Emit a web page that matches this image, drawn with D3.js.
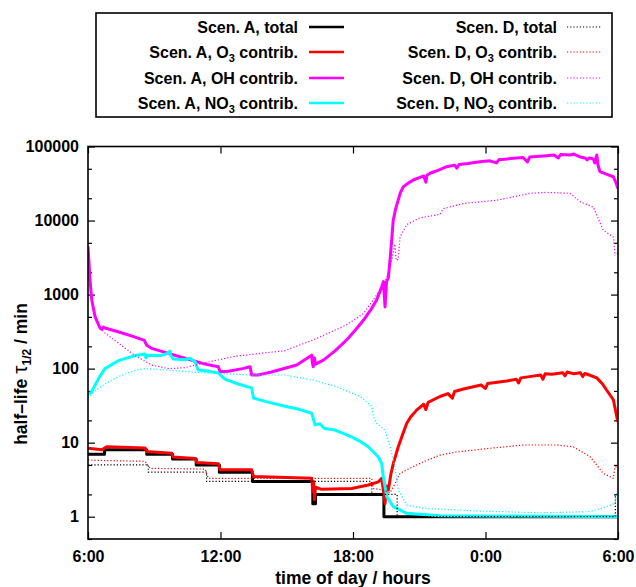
<!DOCTYPE html>
<html><head><meta charset="utf-8">
<script src="https://cdn.jsdelivr.net/npm/d3@7"></script>
<style>
body{margin:0;background:#fff;}
text{font-family:"Liberation Sans",Arial,Helvetica,sans-serif;font-weight:bold;}
</style></head>
<body><svg id="c" width="636" height="587"></svg>
<script>
// ---- data: [hour since 0:00 of first day, half-life in min] ----
const xTickHours = [6, 12, 18, 24, 30];
const xTickLabels = ["6:00", "12:00", "18:00", "0:00", "6:00"];
const yTicks = [1, 10, 100, 1000, 10000, 100000];
const yMinorTicks = [0.5, 2, 5, 20, 50, 200, 500, 2000, 5000, 20000, 50000];

const aTotal = [[6.0,7],[6.75,8],[8.66,7],[9.83,6],[10.9,5],[11.95,4],[13.45,3],[16.18,1.5],[16.3,2],[19.4,1],[30,1]];
const aO3 = [[6.0,8.4],[6.62,8.0],[6.85,8.8],[8.58,8.5],[8.66,7.6],[9.79,7.2],[9.86,6.4],[10.85,6.1],[10.92,5.4],[11.90,5.2],[11.98,4.3],[13.41,4.3],[13.49,3.5],[16.13,3.3],[16.18,2.2],[16.22,3.0],[16.25,1.7],[16.30,2.5],[16.58,2.34],[17.94,2.4],[18.69,2.68],[19.15,2.96],[19.30,3.3],[19.40,2.0],[19.45,1.5],[19.52,2.6],[19.60,2.3],[19.72,3.8],[19.83,5.3],[20.05,8.8],[20.25,13],[20.43,18.2],[20.6,22],[20.88,27.5],[21.2,33],[21.3,28],[21.4,35],[21.94,42],[22.3,46],[22.5,40],[22.6,49],[23.0,53],[23.45,57],[23.8,60],[24.0,54],[24.1,63],[24.96,68],[25.4,72],[25.5,64],[25.6,75],[26.0,78],[26.5,82],[26.6,72],[26.7,85],[27.0,84],[27.5,88],[27.6,80],[27.7,90],[28.0,85],[28.3,88],[28.4,78],[28.5,86],[28.7,82],[29.04,75],[29.3,62],[29.49,51],[29.79,38],[29.95,22],[30.0,19]];
const aOH = [[6.0,4500],[6.05,2600],[6.09,1575],[6.17,845],[6.32,503],[6.54,354],[6.62,340],[6.70,365],[6.77,354],[7.36,315],[8.0,275],[8.49,244],[8.55,240],[8.66,207],[8.88,188],[9.64,161],[10.39,138],[11.30,115],[11.90,106],[11.98,91],[12.35,92],[13.0,100],[13.34,106],[13.41,82],[13.71,82],[14.3,90],[14.92,101],[15.45,112],[16.13,152],[16.16,120],[16.20,106],[16.25,140],[16.3,115],[16.66,130],[17.2,175],[17.71,244],[18.1,330],[18.47,450],[18.8,620],[19.07,845],[19.30,1275],[19.38,1500],[19.45,680],[19.52,1500],[19.60,1700],[19.68,3000],[19.75,5400],[19.82,10000],[19.92,14000],[20.05,19000],[20.15,24000],[20.28,28600],[20.5,32000],[20.73,35300],[21.0,38000],[21.2,40000],[21.3,33000],[21.35,41000],[21.49,43500],[21.8,47000],[22.24,53400],[22.6,56000],[22.7,51000],[22.8,57000],[23.2,59000],[23.75,62400],[24.2,64000],[24.5,60000],[24.6,66000],[25.26,69300],[25.7,71000],[25.9,62000],[26.0,72000],[26.77,75200],[27.1,77000],[27.3,70000],[27.4,78000],[27.83,76800],[28.0,79000],[28.3,72000],[28.5,70000],[28.6,66000],[28.7,70000],[28.88,68000],[28.95,60000],[29.04,76800],[29.1,55000],[29.18,45700],[29.5,42000],[29.79,39000],[29.9,33000],[30.0,27000]];
const aNO3 = [[6.0,45],[6.15,48],[6.32,60],[6.55,80],[6.77,100],[7.37,128],[8.13,150],[8.58,158],[8.62,140],[8.7,152],[9.26,150],[9.6,160],[9.71,172],[9.75,150],[9.86,135],[10.39,132],[10.6,138],[10.85,124],[10.99,96],[11.5,92],[11.90,87],[12.20,72],[12.8,62],[13.41,55],[13.49,40],[14.2,35],[14.92,31],[15.6,28],[16.13,25],[16.28,17.4],[16.5,18],[16.7,15.5],[17.19,14.8],[17.94,12],[18.3,10.5],[18.69,8.8],[19.15,6.4],[19.30,5.2],[19.37,3.5],[19.53,1.86],[19.83,1.37],[20.43,1.11],[21.94,1.03],[30,1.0]];

const dTotal = [[6.0,5],[8.73,4],[11.37,3],[18.85,2],[20.0,1],[29.88,2],[30,2]];
const dO3 = [[6.0,5.8],[8.58,5.6],[8.81,4.5],[11.30,4.4],[11.45,3.3],[18.85,3.3],[18.92,2.4],[19.37,2.3],[19.68,2.1],[19.90,2.8],[20.13,3.85],[20.43,4.3],[21.18,5.5],[21.94,6.8],[22.70,7.5],[24.20,8.4],[25.71,9.3],[27.22,9.3],[27.97,8.8],[28.73,6.5],[29.33,3.85],[29.79,3.3],[29.86,4.7],[30,4.7]];
const dOH = [[6.0,4500],[6.05,2600],[6.09,1575],[6.17,845],[6.32,503],[6.54,360],[6.77,302],[7.36,223],[8.13,150],[8.88,112],[9.64,100],[10.39,103],[11.30,120],[12.66,147],[14.92,175],[16.19,244],[17.71,390],[18.47,554],[19.22,1140],[19.52,1660],[19.75,2900],[19.90,4800],[19.95,2900],[20.05,3000],[20.13,6000],[20.43,8800],[21.03,10900],[21.94,12100],[22.09,14500],[23.00,17000],[24.51,18800],[26.02,23300],[26.77,24000],[27.83,23300],[28.28,18000],[28.88,15200],[29.33,7400],[29.79,6000],[29.86,3600],[30,3600]];
const dNO3 = [[6.0,40],[6.32,50],[6.77,62],[7.37,78],[8.13,95],[8.58,100],[9.71,95],[11.15,88],[13.41,82],[14.92,82],[16.20,70],[17.26,57],[18.32,42],[18.85,31],[18.92,22.5],[19.07,18.2],[19.45,14.8],[19.68,8.8],[19.90,4.7],[20.05,2.3],[20.43,1.44],[21.18,1.3],[23.45,1.2],[26.47,1.13],[28.73,1.17],[29.49,1.37],[29.86,1.52],[29.95,2.0],[30,2.0]];

const series = [
  {name:"Scen. A, total", sub:null, data:aTotal, color:"#000000", dotted:false, step:true},
  {name:"Scen. A, O", sub:"3", rest:" contrib.", data:aO3, color:"#ff0000", dotted:false},
  {name:"Scen. A, OH contrib.", sub:null, data:aOH, color:"#ff00ff", dotted:false},
  {name:"Scen. A, NO", sub:"3", rest:" contrib.", data:aNO3, color:"#00ffff", dotted:false},
  {name:"Scen. D, total", sub:null, data:dTotal, color:"#000000", dotted:true, step:true},
  {name:"Scen. D, O", sub:"3", rest:" contrib.", data:dO3, color:"#ff0000", dotted:true},
  {name:"Scen. D, OH contrib.", sub:null, data:dOH, color:"#ff00ff", dotted:true},
  {name:"Scen. D, NO", sub:"3", rest:" contrib.", data:dNO3, color:"#00ffff", dotted:true}
];

// ---- layout ----
const L = 88, R = 618, T = 146.5, B = 539;
const svg = d3.select("#c");
const x = d3.scaleLinear().domain([6, 30]).range([L, R]);
const y = d3.scaleLog().domain([0.5, 100000]).range([B, T]);

svg.append("clipPath").attr("id","clip").append("rect")
  .attr("x",L).attr("y",T).attr("width",R-L).attr("height",B-T);

const fs = 16, fsTitle = 17.5;
// axes
const axL = svg.append("g").attr("transform",`translate(${L},0)`)
  .call(d3.axisLeft(y).tickValues(yTicks).tickFormat(d3.format("d")).tickSize(-7).tickPadding(9));
const axLm = svg.append("g").attr("transform",`translate(${L},0)`)
  .call(d3.axisLeft(y).tickValues(yMinorTicks).tickFormat("").tickSize(-4));
const axR = svg.append("g").attr("transform",`translate(${R},0)`)
  .call(d3.axisRight(y).tickValues(yTicks).tickFormat("").tickSize(-7));
const axRm = svg.append("g").attr("transform",`translate(${R},0)`)
  .call(d3.axisRight(y).tickValues(yMinorTicks).tickFormat("").tickSize(-4));
const axB = svg.append("g").attr("transform",`translate(0,${B})`)
  .call(d3.axisBottom(x).tickValues(xTickHours).tickFormat((d,i)=>xTickLabels[i]).tickSize(-7).tickPadding(12));
const axT = svg.append("g").attr("transform",`translate(0,${T})`)
  .call(d3.axisTop(x).tickValues(xTickHours).tickFormat("").tickSize(-7));
[axL,axLm,axR,axRm,axB,axT].forEach(g=>{
  g.select(".domain").remove();
  g.selectAll(".tick line").attr("stroke","#000").attr("stroke-width",1.2);
  g.selectAll("text").attr("font-size",fs).attr("font-weight","bold").attr("fill","#000")
    .attr("font-family","Liberation Sans, Arial, sans-serif");
});

// lines
const plot = svg.append("g").attr("clip-path","url(#clip)");
series.forEach(s=>{
  const line = d3.line().x(d=>x(d[0])).y(d=>y(d[1]))
    .curve(s.step ? d3.curveStepAfter : d3.curveLinear);
  plot.append("path").attr("d", line(s.data)).attr("fill","none")
    .attr("stroke", s.color)
    .attr("stroke-width", s.dotted ? 1.2 : 3)
    .attr("stroke-dasharray", s.dotted ? "1.2,2" : null)
    .attr("stroke-linejoin","round");
});

// frame
svg.append("rect").attr("x",L).attr("y",T).attr("width",R-L).attr("height",B-T)
  .attr("fill","none").attr("stroke","#000").attr("stroke-width",1.6);

// axis titles
svg.append("text").attr("x",(L+R)/2).attr("y",584).attr("text-anchor","middle")
  .attr("font-size",fsTitle).text("time of day / hours");
const yl = svg.append("text").attr("transform",`translate(27,374) rotate(-90)`)
  .attr("text-anchor","middle").attr("font-size",fsTitle);
yl.append("tspan").text("half–life ");
yl.append("tspan").attr("font-size",21).attr("font-weight","normal").text("τ");
yl.append("tspan").attr("font-size",12).attr("dy",4).text("1/2");
yl.append("tspan").attr("dy",-4).text(" / min");

// legend
svg.append("rect").attr("x",96).attr("y",13).attr("width",516).attr("height",104)
  .attr("fill","#fff").attr("stroke","#000").attr("stroke-width",1.6);
const rowsY = [27, 52, 78, 103];
series.forEach((s,i)=>{
  const col = Math.floor(i/4), row = i%4;
  const tx = col===0 ? 298 : 557;
  const lx = col===0 ? 309 : 567;
  const yy = rowsY[row];
  const t = svg.append("text").attr("x",tx).attr("y",yy+5.5).attr("text-anchor","end")
    .attr("font-size",fs);
  t.append("tspan").text(s.name);
  if (s.sub) {
    t.append("tspan").attr("font-size",11).attr("dy",4).text(s.sub);
    t.append("tspan").attr("dy",-4).text(s.rest);
  }
  svg.append("line").attr("x1",lx).attr("x2",lx+35).attr("y1",yy).attr("y2",yy)
    .attr("stroke",s.color).attr("stroke-width", s.dotted?1.2:2.5)
    .attr("stroke-dasharray", s.dotted?"1.2,2":null);
});
</script></body></html>
